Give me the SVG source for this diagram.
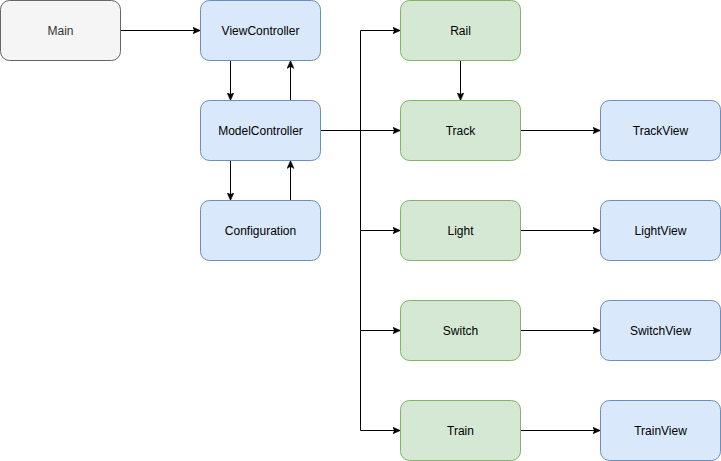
<svg xmlns="http://www.w3.org/2000/svg" width="721" height="461" viewBox="0 0 721 461">
<defs>
<style>
.box{stroke-width:1}
.gray{fill:#f5f5f5;stroke:#666666}
.blue{fill:#dae8fc;stroke:#6c8ebf}
.green{fill:#d5e8d4;stroke:#82b366}
text{font-family:"Liberation Sans",Arial,Helvetica,sans-serif;font-size:12px;text-anchor:middle;dominant-baseline:central;fill:#000}
.gray-t{fill:#333333}
.edge{fill:none;stroke:#000;stroke-width:1;marker-end:url(#arr)}
.line{fill:none;stroke:#000;stroke-width:1}
</style>
<marker id="arr" viewBox="0 0 8 8" refX="8" refY="4" markerWidth="8" markerHeight="8" markerUnits="userSpaceOnUse" orient="auto">
<path d="M0,0.5 L8,4 L0,7.5 L2,4 Z" fill="#000" stroke="#000" stroke-width="0.5"/>
</marker>
</defs>
<rect width="721" height="461" fill="#ffffff"/>
<g id="connectors">
<path class="edge" d="M120.5,30.5 L200.5,30.5"/>
<path class="edge" d="M230.5,60.5 L230.5,100.5"/>
<path class="edge" d="M290.5,100.5 L290.5,60.5"/>
<path class="edge" d="M230.5,160.5 L230.5,200.5"/>
<path class="edge" d="M290.5,200.5 L290.5,160.5"/>
<path class="edge" d="M320.5,130.5 L400.5,130.5"/>
<path class="edge" d="M360.5,130.5 L360.5,30.5 L400.5,30.5"/>
<path class="edge" d="M360.5,130.5 L360.5,230.5 L400.5,230.5"/>
<path class="edge" d="M360.5,230.5 L360.5,330.5 L400.5,330.5"/>
<path class="edge" d="M360.5,330.5 L360.5,430.5 L400.5,430.5"/>
<path class="edge" d="M460.5,60.5 L460.5,100.5"/>
<path class="edge" d="M520.5,130.5 L600.5,130.5"/>
<path class="edge" d="M520.5,230.5 L600.5,230.5"/>
<path class="edge" d="M520.5,330.5 L600.5,330.5"/>
<path class="edge" d="M520.5,430.5 L600.5,430.5"/>
</g>
<g id="main"><rect class="box gray" x="0.5" y="0.5" width="120" height="60" rx="9" ry="9"/><text class="gray-t" x="60.5" y="30.5">Main</text></g>
<g id="viewcontroller"><rect class="box blue" x="200.5" y="0.5" width="120" height="60" rx="9" ry="9"/><text x="260.5" y="30.5">ViewController</text></g>
<g id="modelcontroller"><rect class="box blue" x="200.5" y="100.5" width="120" height="60" rx="9" ry="9"/><text x="260.5" y="130.5">ModelController</text></g>
<g id="configuration"><rect class="box blue" x="200.5" y="200.5" width="120" height="60" rx="9" ry="9"/><text x="260.5" y="230.5">Configuration</text></g>
<g id="rail"><rect class="box green" x="400.5" y="0.5" width="120" height="60" rx="9" ry="9"/><text x="460.5" y="30.5">Rail</text></g>
<g id="track"><rect class="box green" x="400.5" y="100.5" width="120" height="60" rx="9" ry="9"/><text x="460.5" y="130.5">Track</text></g>
<g id="light"><rect class="box green" x="400.5" y="200.5" width="120" height="60" rx="9" ry="9"/><text x="460.5" y="230.5">Light</text></g>
<g id="switch"><rect class="box green" x="400.5" y="300.5" width="120" height="60" rx="9" ry="9"/><text x="460.5" y="330.5">Switch</text></g>
<g id="train"><rect class="box green" x="400.5" y="400.5" width="120" height="60" rx="9" ry="9"/><text x="460.5" y="430.5">Train</text></g>
<g id="trackview"><rect class="box blue" x="600.5" y="100.5" width="120" height="60" rx="9" ry="9"/><text x="660.5" y="130.5">TrackView</text></g>
<g id="lightview"><rect class="box blue" x="600.5" y="200.5" width="120" height="60" rx="9" ry="9"/><text x="660.5" y="230.5">LightView</text></g>
<g id="switchview"><rect class="box blue" x="600.5" y="300.5" width="120" height="60" rx="9" ry="9"/><text x="660.5" y="330.5">SwitchView</text></g>
<g id="trainview"><rect class="box blue" x="600.5" y="400.5" width="120" height="60" rx="9" ry="9"/><text x="660.5" y="430.5">TrainView</text></g>
</svg>
